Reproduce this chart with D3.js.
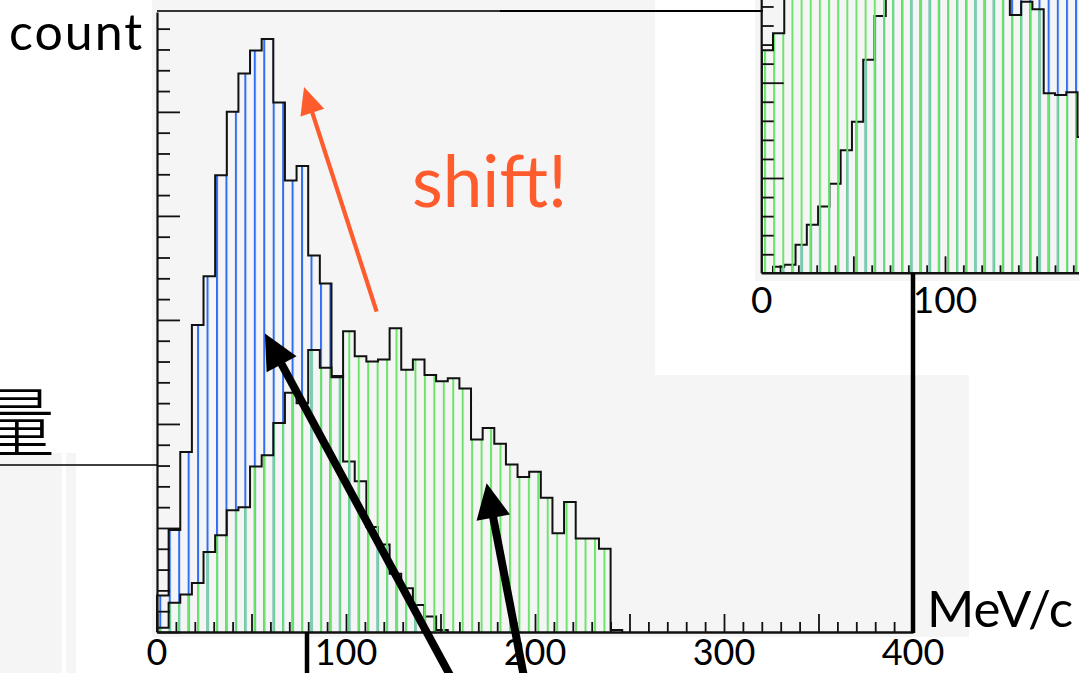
<!DOCTYPE html>
<html>
<head>
<meta charset="utf-8">
<script src="https://cdn.jsdelivr.net/npm/d3@7"></script>
<style>
  html, body { margin: 0; padding: 0; background: #fff; overflow: hidden; }
  svg { display: block; }
</style>
</head>
<body>
<svg id="chart" width="1079" height="673"></svg>
<script>
// Momentum spectra (MeV/c) of two samples, equal-width bins starting at 0
const binWidth = 400 / 65;

// main panel counts per bin
const blueCounts = [35, 98, 173, 295, 342, 439, 500, 537, 559, 570, 509, 434, 448, 362, 335,
                    246, 164, 145, 101, 84, 56, 42, 26, 15, 2];
const greenCounts = [4, 28, 36, 47, 77, 93, 117, 120, 159, 170, 201, 230, 220, 271, 254, 245,
                     289, 265, 260, 262, 292, 252, 262, 247, 241, 244, 234, 185, 196, 181, 161,
                     149, 154, 129, 95, 125, 90, 90, 80, 2];

// inset panel counts per bin (values above the frame are cut off by the panel)
const insetBlueCounts = [0, 7, 9, 30, 51, 70, 94, 129, 159, 224, 270, 312, 335, 352, 368, 380,
                         391, 398, 402, 405, 400, 396, 390, 383, 370, 362, 350, 341, 330];
const insetGreenCounts = [234, 252, 318, 345, 372, 398, 420, 437, 450, 458, 462, 460, 455, 447,
                          436, 421, 405, 388, 370, 350, 330, 305, 271, 285, 277, 189, 187, 190, 143];

const xTickLabels = [0, 100, 200, 300, 400];
const insetTickLabels = [0, 100];

const W = 1079, H = 673;
const svg = d3.select("#chart");
const FONT = "Lato, 'Open Sans', sans-serif";

// ---------- scales ----------
const x = d3.scaleLinear().domain([0, 400]).range([157, 913]);
const y = d3.scaleLinear().domain([0, 596]).range([632, 12]);
const xi = d3.scaleLinear().domain([0, 100]).range([761.7, 945]);
const yi = d3.scaleLinear().domain([0, 100]).range([273.3, 178]);

// ---------- background panels ----------
const bg = svg.append("g");
bg.append("rect").attr("width", W).attr("height", H).attr("fill", "#fff");
const panelFill = "#f5f5f5";
[[152, 0, 503, 637], [652, 375, 317, 262], [755, 0, 324, 281],
 [0, 453, 62, 220], [66, 453, 10, 220]].forEach(([px, py, pw, ph]) => {
  bg.append("rect").attr("x", px).attr("y", py).attr("width", pw).attr("height", ph)
    .attr("fill", panelFill);
});

// ---------- hatch patterns ----------
const defs = svg.append("defs");
function hatch(id, color, origin, spacing) {
  const p = defs.append("pattern").attr("id", id)
    .attr("patternUnits", "userSpaceOnUse")
    .attr("x", origin - 1).attr("y", 0)
    .attr("width", spacing).attr("height", 10);
  p.append("rect").attr("x", 0).attr("y", 0).attr("width", 2).attr("height", 10).attr("fill", color);
}
const blueInk = "#2f6ef2", greenInk = "#6ce46c";
hatch("hBlue", blueInk, 160.3, 9.45);
hatch("hGreen", greenInk, 160.3, 9.45);
hatch("hBlueI", blueInk, 765, 9.15);
hatch("hGreenI", greenInk, 765, 9.15);

defs.append("clipPath").attr("id", "insetClip")
  .append("rect").attr("x", 761).attr("y", 0).attr("width", W - 761).attr("height", 273.3);

// ---------- histogram helpers ----------
function stepPoints(counts) {
  const pts = [{ e: 0, c: 0 }];
  counts.forEach((c, i) => pts.push({ e: i * binWidth, c }));
  pts.push({ e: counts.length * binWidth, c: 0 });
  return pts;
}
function drawHist(g, counts, xs, ys, fillId) {
  const pts = stepPoints(counts);
  const area = d3.area().curve(d3.curveStepAfter)
    .x(d => xs(d.e)).y0(ys(0)).y1(d => ys(d.c));
  const line = d3.line().curve(d3.curveStepAfter)
    .x(d => xs(d.e)).y(d => ys(d.c));
  g.append("path").attr("d", area(pts)).attr("fill", `url(#${fillId})`);
  g.append("path").attr("d", line(pts)).attr("fill", "none")
    .attr("stroke", "#111").attr("stroke-width", 2);
}

// ---------- main panel ----------
const main = svg.append("g");
drawHist(main, blueCounts, x, y, "hBlue");
drawHist(main, greenCounts, x, y, "hGreen");

// x axis (ticks pointing up into the plot)
const gx = main.append("g").attr("transform", `translate(0,${y(0)})`)
  .call(d3.axisBottom(x).tickValues(d3.range(0, 401, 10)).tickSize(-10).tickSizeOuter(0).tickFormat(""));
gx.selectAll(".tick line").attr("y2", d => d % 50 === 0 ? -18 : -10)
  .attr("stroke", "#111").attr("stroke-width", 1.8);
gx.select(".domain").attr("stroke", "#111").attr("stroke-width", 2.4);

// y axis (ticks pointing right)
const gy = main.append("g").attr("transform", `translate(${x(0)},0)`)
  .call(d3.axisRight(y).tickValues(d3.range(0, 596, 20)).tickSize(13).tickSizeOuter(0).tickFormat(""));
gy.selectAll(".tick line").attr("x2", d => d % 100 === 0 ? 23 : 13)
  .attr("stroke", "#111").attr("stroke-width", 1.8);
gy.select(".domain").attr("stroke", "#111").attr("stroke-width", 2.2);

// top frame
main.append("line").attr("x1", x(0)).attr("x2", 500).attr("y1", 11).attr("y2", 11)
  .attr("stroke", "#333").attr("stroke-width", 1.8);
main.append("line").attr("x1", 500).attr("x2", 763).attr("y1", 11).attr("y2", 11)
  .attr("stroke", "#000").attr("stroke-width", 2);

// tick labels
main.selectAll("text.xl").data(xTickLabels).join("text")
  .attr("class", "xl")
  .attr("x", d => x(d)).attr("y", 665)
  .attr("text-anchor", "middle")
  .attr("font-family", FONT).attr("font-size", 36).attr("fill", "#000")
  .text(d => d);

// ---------- inset panel ----------
const inset = svg.append("g");
const insetPlot = inset.append("g").attr("clip-path", "url(#insetClip)");
drawHist(insetPlot, insetBlueCounts, xi, yi, "hBlueI");
drawHist(insetPlot, insetGreenCounts, xi, yi, "hGreenI");

const gxi = inset.append("g").attr("transform", `translate(0,${yi(0)})`)
  .call(d3.axisBottom(xi).tickValues(d3.range(10, 171, 10)).tickSize(-8).tickSizeOuter(0).tickFormat(""));
gxi.select(".domain").remove();
gxi.selectAll(".tick line").attr("y2", d => d % 50 === 0 ? -17 : -8)
  .attr("stroke", "#111").attr("stroke-width", 1.8);
inset.append("line").attr("x1", xi(0)).attr("x2", W).attr("y1", yi(0)).attr("y2", yi(0))
  .attr("stroke", "#111").attr("stroke-width", 2.4);

const gyi = inset.append("g").attr("transform", `translate(${xi(0)},0)`)
  .call(d3.axisRight(yi).tickValues(d3.range(20, 281, 20)).tickSize(12).tickSizeOuter(0).tickFormat(""));
gyi.select(".domain").remove();
gyi.selectAll(".tick line").attr("x2", d => d % 100 === 0 ? 22 : 12)
  .attr("stroke", "#111").attr("stroke-width", 1.8);
inset.append("line").attr("x1", xi(0)).attr("x2", xi(0)).attr("y1", 0).attr("y2", yi(0))
  .attr("stroke", "#111").attr("stroke-width", 2.2);

inset.selectAll("text.il").data(insetTickLabels).join("text")
  .attr("class", "il")
  .attr("x", d => xi(d)).attr("y", 313)
  .attr("text-anchor", "middle")
  .attr("font-family", FONT).attr("font-size", 37).attr("fill", "#000")
  .text(d => d);

// ---------- connector lines ----------
const deco = svg.append("g");
deco.append("line").attr("x1", x(400)).attr("x2", x(400)).attr("y1", yi(0)).attr("y2", y(0) + 1)
  .attr("stroke", "#000").attr("stroke-width", 4.5);
deco.append("line").attr("x1", 307).attr("x2", 307).attr("y1", y(0)).attr("y2", H)
  .attr("stroke", "#000").attr("stroke-width", 4.5);
deco.append("line").attr("x1", 0).attr("x2", x(0)).attr("y1", 465).attr("y2", 465)
  .attr("stroke", "#000").attr("stroke-width", 1.6);

// ---------- arrows (tail/tip in MeV/c and counts) ----------
const arrows = [
  { tail: [116.2, 308], tip: [77.8, 524], width: 4.2, headLen: 27, headHalf: 12.5, color: "#ff5c2e" },
  { tail: [162.3, -66], tip: [57.1, 287], width: 8, headLen: 35, headHalf: 17, color: "#000" },
  { tail: [196.6, -66], tip: [174.4, 143], width: 8, headLen: 35, headHalf: 17, color: "#000" }
];
arrows.forEach(a => {
  const t0 = [x(a.tail[0]), y(a.tail[1])];
  const t1 = [x(a.tip[0]), y(a.tip[1])];
  const dx = t1[0] - t0[0], dy = t1[1] - t0[1];
  const len = Math.hypot(dx, dy);
  const ux = dx / len, uy = dy / len;
  const bx = t1[0] - ux * a.headLen, by = t1[1] - uy * a.headLen;
  deco.append("line")
    .attr("x1", t0[0]).attr("y1", t0[1])
    .attr("x2", bx + ux * 4).attr("y2", by + uy * 4)
    .attr("stroke", a.color).attr("stroke-width", a.width);
  const px = -uy, py = ux;
  deco.append("path")
    .attr("d", `M${t1[0]},${t1[1]} L${bx + px * a.headHalf},${by + py * a.headHalf} L${bx - px * a.headHalf},${by - py * a.headHalf} Z`)
    .attr("fill", a.color);
});

// ---------- text ----------
svg.append("text").attr("x", 412).attr("y", 207)
  .attr("font-family", FONT).attr("font-size", 71).attr("fill", "#ff5c2e")
  .text("shift!");
svg.append("text").attr("x", 9).attr("y", 50)
  .attr("font-family", FONT).attr("font-size", 50).attr("letter-spacing", 2)
  .attr("fill", "#000")
  .text("count");
svg.append("text").attr("x", 927).attr("y", 627)
  .attr("font-family", FONT).attr("font-size", 51).attr("fill", "#000")
  .text("MeV/c");
svg.append("text").attr("x", -21).attr("y", 451)
  .attr("font-family", "'Noto Sans CJK JP', 'Noto Sans CJK SC', sans-serif")
  .attr("font-weight", 300).attr("font-size", 76).attr("fill", "#000")
  .text("量");
</script>
</body>
</html>
